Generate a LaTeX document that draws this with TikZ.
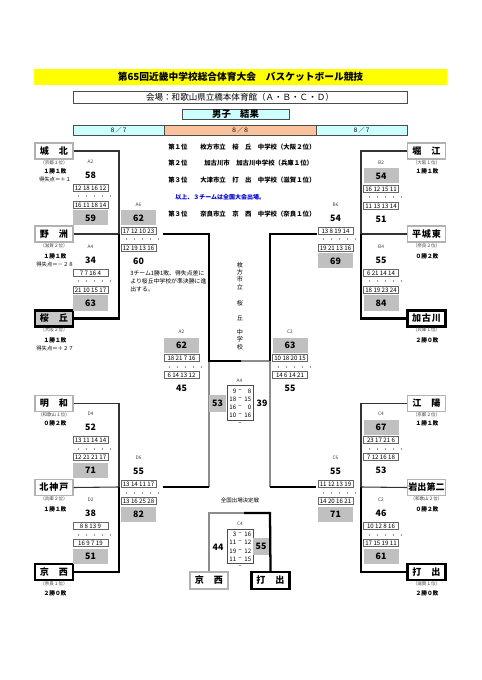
\documentclass[tikz,border=0pt]{standalone}
\usepackage{fontspec}
\setmainfont{Noto Sans CJK JP}
\newcommand\fsz[1]{\fontsize{#1pt}{#1pt}\selectfont}
\definecolor{ttlyel}{HTML}{FFFF00}
\definecolor{cyn}{HTML}{CCFFFF}
\definecolor{org}{HTML}{F9C29C}
\definecolor{shd}{HTML}{C0C0C0}
\tikzset{
 ln/.style={line width=0.8pt, black!80},
 gl/.style={line width=0.8pt, black!45},
 win/.style={line width=1.7pt, black},
 tb/.style={draw=black!30, line width=0.9pt, fill=white, minimum width=28.5pt, minimum height=12pt, inner sep=0pt, font=\fsz{6.8}\bfseries},
 tbw/.style={tb, draw=black, line width=1.7pt},
 sub/.style={font=\fsz{3.4}, text=black!75, inner sep=0pt},
 rec/.style={font=\fsz{4.3}\bfseries, inner sep=0pt},
 lbl/.style={font=\fsz{3.6}, text=black!75, inner sep=0pt},
 sc/.style={font=\fsz{6.6}\bfseries, inner sep=0pt},
 shdbox/.style={sc, fill=shd, minimum width=26.25pt, minimum height=11.25pt},
 per/.style={draw=black!60, line width=0.4pt, minimum width=26.25pt, minimum height=5.6pt, inner sep=0pt, font=\fsz{4.6}},
 tk/.style={black!40, line width=0.3pt},
 rk/.style={font=\fsz{4.8}\bfseries, anchor=west, inner sep=0pt},
 fin/.style={font=\fsz{4.6}, inner sep=0pt},
}
\newcommand\gm[9]{%
 \node[lbl] (#1-l) at (#2,#3) {#4};
 \if t#9
  \node[shdbox] (#1-t) at (#2,#3+13) {#5};
  \node[sc] (#1-b) at (#2,#3+56) {#8};
 \else
  \node[sc] (#1-t) at (#2,#3+13) {#5};
  \node[shdbox] (#1-b) at (#2,#3+56) {#8};
 \fi
 \node[per] (#1-p) at (#2,#3+26) {#6};
 \node[per] (#1-q) at (#2,#3+43) {#7};
 \foreach \o in {-12,-4,4,12,20} \draw[tk] (#2+\o,#3+33.5) -- ++(0,2);
}
\newcommand\team[6]{% name, x, y, style, text, sub1
 \node[#4] (#1) at (#2,#3) {#5};
 \node[sub] (#1-s) at (#2,#3+11.5) {#6};
}
\begin{document}
\begin{tikzpicture}[x=0.75pt,y=-0.75pt]
\useasboundingbox[fill=white] (0,0) rectangle (481,680);
% header
\node[fill=ttlyel, minimum width=309.75pt, minimum height=12pt, inner sep=0pt, font=\fsz{7.3}\bfseries] (title) at (240.5,77) {第65回近畿中学校総合体育大会　バスケットボール競技};
\node[draw=black!70, line width=0.6pt, minimum width=250.5pt, minimum height=9pt, inner sep=0pt, font=\fsz{6.4}] (venue) at (240,97) {会場：和歌山県立橋本体育館（Ａ・Ｂ・Ｃ・Ｄ）};
\node[draw=black!70, fill=cyn, line width=0.6pt, minimum width=80.25pt, minimum height=7.5pt, inner sep=0pt, font=\fsz{7}\bfseries] (res) at (235.5,114) {男子　結果};
\node[draw=black!70, fill=cyn, line width=0.6pt, minimum width=68.25pt, minimum height=7.5pt, inner sep=0pt, font=\fsz{4.5}] (d1) at (118.5,130) {８／７};
\node[draw=black!70, fill=org, line width=0.6pt, minimum width=114pt, minimum height=7.5pt, inner sep=0pt, font=\fsz{4.5}] (d2) at (240,130) {８／８};
\node[draw=black!70, fill=cyn, line width=0.6pt, minimum width=68.25pt, minimum height=7.5pt, inner sep=0pt, font=\fsz{4.5}] (d3) at (361.5,130) {８／７};
% ranking
\node[rk] (r1) at (168,147) {第１位};
\node[rk] (r1t) at (200,147) {枚方市立　桜　丘　中学校（大阪２位）};
\node[rk] (r2) at (168,163) {第２位};
\node[rk] (r2t) at (204,163) {加古川市　加古川中学校（兵庫１位）};
\node[rk] (r3) at (168,180) {第３位};
\node[rk] (r3t) at (200,180) {大津市立　打　出　中学校（滋賀１位）};
\node[rk, text=blue!85!black, font=\fsz{4.5}\bfseries] (rb) at (175,197) {以上、３チームは全国大会出場。};
\node[rk] (r4) at (168,214) {第３位};
\node[rk] (r4t) at (200,214) {奈良市立　京　西　中学校（奈良１位）};
% teams left
\team{jo}{54}{151}{tb}{城\hspace{1.1em}北}{（京都１位）}
\node[rec] (jo-r) at (55,171) {１勝１敗};
\node[rec, font=\fsz{4}] (jo-d) at (55,179) {得失点＝＋１};
\team{ya}{54}{234}{tb}{野\hspace{1.1em}洲}{（滋賀２位）}
\node[rec] (ya-r) at (55,256) {１勝１敗};
\node[rec, font=\fsz{4}] (ya-d) at (55,264) {得失点＝－２８};
\team{sa}{54}{318.5}{tbw, fill=black!22}{桜\hspace{1.1em}丘}{（大阪２位）}
\node[rec] (sa-r) at (55,340) {１勝１敗};
\node[rec, font=\fsz{4}] (sa-d) at (55,348) {得失点＝＋２７};
\team{me}{54}{403.5}{tb}{明\hspace{1.1em}和}{（和歌山１位）}
\node[rec] (me-r) at (55,423) {０勝２敗};
\team{ki}{54}{487.5}{tb}{北\hspace{0.1em}神\hspace{0.1em}戸}{（兵庫２位）}
\node[rec] (ki-r) at (55,509) {１勝１敗};
\team{ky}{54}{572}{tbw}{京\hspace{1.1em}西}{（奈良１位）}
\node[rec] (ky-r) at (55,593) {２勝０敗};
% teams right
\team{ho}{426.5}{151}{tb}{堀\hspace{1.1em}江}{（大阪１位）}
\node[rec] (ho-r) at (427,171) {１勝１敗};
\team{he}{426.5}{234}{tb}{平\hspace{0.1em}城\hspace{0.1em}東}{（奈良２位）}
\node[rec] (he-r) at (427,256) {０勝２敗};
\team{ka}{426.5}{318.5}{tbw}{加\hspace{0.1em}古\hspace{0.1em}川}{（兵庫１位）}
\node[rec] (ka-r) at (427,340) {２勝０敗};
\team{ko}{426.5}{403.5}{tb}{江\hspace{1.1em}陽}{（京都２位）}
\node[rec] (ko-r) at (427,423) {１勝１敗};
\team{iw}{426.5}{487.5}{tb}{岩出第二}{（和歌山２位）}
\node[rec] (iw-r) at (427,509) {０勝２敗};
\team{uc}{426.5}{572}{tbw}{打\hspace{1.1em}出}{（滋賀１位）}
\node[rec] (uc-r) at (427,593) {２勝０敗};
% center bottom teams
\node[tb, minimum height=12.75pt] (ky2) at (209,580.5) {京\hspace{1.1em}西};
\node[tbw, minimum height=12.75pt] (uc2) at (270.5,580.5) {打\hspace{1.1em}出};
% coordinates
\coordinate (lt) at (119,234); \coordinate (lb) at (119,487);
\coordinate (rt) at (361,234); \coordinate (rb2) at (361,487);
\coordinate (clt) at (163,234); \coordinate (crt) at (317,234);
\coordinate (clb) at (163,487); \coordinate (crb) at (316,487);
\coordinate (fl) at (209,361); \coordinate (fm) at (241,361); \coordinate (fr) at (270,361);
\coordinate (tm) at (244,513);
% group lines
\draw[ln] (jo.east) -- (119,151) -- (lt);
\draw[ln] (ya.east) -- (lt);
\draw[win] (sa.east) -- (119,318.5) -- (lt);
\draw[ln] (me.east) -- (119,403.5) -- (lb);
\draw[ln] (ki.east) -- (lb);
\draw[win] (ky.east) -- (119,572) -- (lb);
\draw[ln] (ho.west) -- (361,151) -- (rt);
\draw[ln] (he.west) -- (rt);
\draw[win] (ka.west) -- (361,318.5) -- (rt);
\draw[ln] (ko.west) -- (361,403.5) -- (rb2);
\draw[ln] (iw.west) -- (rb2);
\draw[win] (uc.west) -- (361,572) -- (rb2);
% center bracket
\draw[gl] (fl) -- (209,487);
\draw[gl] (fr) -- (270,487);
\draw[gl] (fm) -- (fr);
\draw[win] (clt) -- (209,234) -- (fl) -- (fm);
\draw[win] (crt) -- (270,234) -- (fr);
\draw[win] (clb) -- (209,487);
\draw[win] (crb) -- (270,487);
\draw[gl] (ky2.north) -- (209,513) -- (tm);
\draw[win] (tm) -- (270,513) -- (uc2.north);
% games
\gm{a2}{90.5}{162}{A2}{58}{12 18 16 12}{16 11 18 14}{59}{b}
\gm{a4}{90.5}{247}{A4}{34}{7 7 16 4}{21 10 15 17}{63}{b}
\gm{a6}{138.5}{205}{A6}{62}{17 12 10 23}{12 19 13 16}{60}{t}
\gm{d4}{90.5}{414}{D4}{52}{13 11 14 14}{12 21 21 17}{71}{b}
\gm{d2}{90.5}{500}{D2}{38}{8 8 13 9}{16 9 7 19}{51}{b}
\gm{d6}{138.5}{458}{D6}{55}{13 14 11 17}{13 16 25 28}{82}{b}
\gm{b2}{381}{163}{B2}{54}{16 12 15 11}{11 13 13 14}{51}{t}
\gm{b4}{381}{247}{B4}{55}{6 21 14 14}{18 19 23 24}{84}{b}
\gm{b6}{335.5}{205}{B6}{54}{13 8 19 14}{19 21 13 16}{69}{b}
\gm{c4}{381}{414}{C4}{67}{23 17 21 6}{7 12 16 18}{53}{t}
\gm{c2}{381}{500}{C2}{46}{10 12 8 16}{17 15 19 11}{61}{b}
\gm{c6}{335.5}{458}{C6}{55}{11 12 13 19}{14 20 16 21}{71}{b}
\gm{sa2}{181.5}{332}{A2}{62}{18 21 7 16}{6 14 13 12}{45}{t}
\gm{sc2}{290}{332}{C2}{63}{10 18 20 15}{14 6 14 21}{55}{t}
% note
\node[font=\fsz{4.4}, anchor=west, inner sep=0pt] (n1) at (130,273) {3チーム1勝1敗、得失点差に};
\node[font=\fsz{4.4}, anchor=west, inner sep=0pt] (n2) at (130,281) {より桜丘中学校が準決勝に進};
\node[font=\fsz{4.4}, anchor=west, inner sep=0pt] (n3) at (130,289) {出する。};
% champion vertical text
\foreach \c/\y [count=\i] in {枚/265,方/272,市/279,立/287,桜/303,丘/318,中/332,学/339,校/347}
  \node[fin] (ch\i) at (240,\y) {\c};
% final A4
\node[lbl] (fa-l) at (239.5,381) {A4};
\draw[line width=0.4pt, black!70] (227,385) rectangle (253,420);
\foreach \a/\b/\y in {9/8/391,18/15/399,16/0/407,10/16/415} {
  \node[fin, anchor=east] (fa-a\y) at (236.5,\y) {\a};
  \node[fin] (fa-m\y) at (240,\y) {–};
  \node[fin, anchor=east] (fa-b\y) at (251.5,\y) {\b};
}
\node[fin] (fa-e) at (240,424) {–};
\node[shdbox, minimum width=12.75pt, minimum height=12.75pt] (fa-w) at (217.5,403.5) {53};
\node[sc] (fa-o) at (262,403) {39};
% third place
\node[font=\fsz{4.1}, inner sep=0pt] (zk) at (240,500) {全国出場決定戦};
\node[lbl] (tp-l) at (240,524) {C4};
\draw[line width=0.4pt, black!70] (227,529) rectangle (253,563);
\foreach \a/\b/\y in {3/16/534,11/12/542,19/12/551,11/15/559} {
  \node[fin, anchor=east] (tp-a\y) at (236.5,\y) {\a};
  \node[fin] (tp-m\y) at (240,\y) {–};
  \node[fin, anchor=east] (tp-b\y) at (251.5,\y) {\b};
}
\node[fin] (tp-e) at (240,567) {–};
\node[sc] (tp-o) at (218,547) {44};
\node[shdbox, minimum width=12pt, minimum height=12.75pt] (tp-w) at (261,546.5) {55};
\end{tikzpicture}
\end{document}
